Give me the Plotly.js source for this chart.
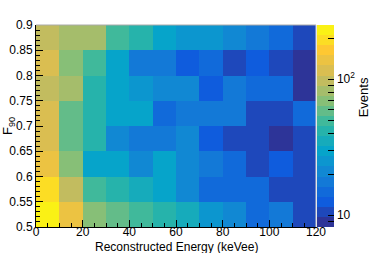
<!DOCTYPE html>
<html><head><meta charset="utf-8">
<script src="https://cdn.plot.ly/plotly-3.0.1.min.js"></script>
<style>html,body{margin:0;padding:0;background:#fff;}#plot{width:374px;height:253px;}</style>
</head><body><div id="plot"></div>
<script>
// bin centres
const energyCenters = [5,15,25,35,45,55,65,75,85,95,105,115];
const f90Centers = [0.525,0.575,0.625,0.675,0.725,0.775,0.825,0.875];
// event counts, rows bottom (F90 0.50-0.55) to top (0.85-0.90)
const row050 = [230,137,69,58,49,42,35,25,21,15,18,11];
const row055 = [194,98,49,42,35,30,21,15,15,15,11,11];
const row060 = [137,69,30,30,21,30,21,18,15,11,13,11];
const row065 = [116,58,42,21,18,18,21,13,11,11,9,11];
const row070 = [116,58,42,30,30,15,18,18,18,11,11,15];
const row075 = [98,82,42,30,25,21,21,13,18,15,15,9];
const row080 = [116,69,49,30,18,18,13,15,11,13,11,9];
const row085 = [98,82,82,49,42,30,25,25,21,18,15,11];
const counts = [row050,row055,row060,row065,row070,row075,row080,row085];
const xTickVals = [0,20,40,60,80,100,120];
const yTickVals = [0.5,0.55,0.6,0.65,0.7,0.75,0.8,0.85,0.9];
const yTickText = ["0.5","0.55","0.6","0.65","0.7","0.75","0.8","0.85","0.9"];
const cbMajor = [10,100];
const cbMajorText = ["10","10<sup>2</sup>"];
const cbMinor = [9,20,30,40,50,60,70,80,90,200];
const zMin = 8.2, zMax = 250;

// ROOT kBird palette
const st = [0,0.125,0.25,0.375,0.5,0.625,0.75,0.875,1];
const R = [0.2082,0.0592,0.0780,0.0232,0.1802,0.5301,0.8186,0.9956,0.9764];
const G = [0.1664,0.3599,0.5041,0.6419,0.7178,0.7492,0.7328,0.7862,0.9832];
const B = [0.5293,0.8684,0.8385,0.7914,0.6425,0.4662,0.3499,0.1968,0.0539];
function bird(t){
  let i=0; while(i<st.length-2 && t>st[i+1]) i++;
  const f=(t-st[i])/(st[i+1]-st[i]);
  const c=a=>Math.round(255*(a[i]+f*(a[i+1]-a[i])));
  return 'rgb('+c(R)+','+c(G)+','+c(B)+')';
}
const nb=20, cs=[];
for(let k=0;k<nb;k++){const col=bird((k+0.5)/nb);cs.push([k/nb,col]);cs.push([(k+1)/nb,col]);}

const z = counts.map(r=>r.map(v=>Math.log10(v)));
const tv=[], tt=[];
cbMajor.forEach((v,i)=>{tv.push(Math.log10(v));tt.push(cbMajorText[i]);});
cbMinor.forEach(v=>{tv.push(Math.log10(v));tt.push("");});

const font = {family:'"Liberation Sans", Arial, sans-serif', size:12, color:'#000'};
const trace = {
  type:'heatmap', x:energyCenters, y:f90Centers, z:z,
  zmin:Math.log10(zMin), zmax:Math.log10(zMax), colorscale:cs, hoverinfo:'skip',
  colorbar:{x:1.004, xanchor:'left', xref:'paper', xpad:0, y:0.5, yanchor:'middle', ypad:0,
    len:1, lenmode:'fraction', thickness:17, thicknessmode:'pixels', outlinewidth:0,
    tickmode:'array', tickvals:tv, ticktext:tt, ticks:'inside', ticklen:6, tickcolor:'#000',
    tickfont:font, title:{text:''}}
};
const layout = {
  width:374, height:253, margin:{l:36,r:56,t:25,b:26},
  paper_bgcolor:'#fff', plot_bgcolor:'#fff', font:font, showlegend:false,
  xaxis:{range:[0,120], tickmode:'array', tickvals:xTickVals, ticks:'inside', ticklen:7, tickcolor:'#000',
    showline:true, linecolor:'#000', linewidth:1, showgrid:false, zeroline:false, tickfont:font,
    ticklabelstandoff:-6,
    minor:{dtick:5, tick0:0, ticks:'inside', ticklen:4, tickcolor:'#000', showgrid:false},
    title:{text:''}, automargin:false},
  yaxis:{range:[0.5,0.9], tickmode:'array', tickvals:yTickVals, ticktext:yTickText, ticks:'inside', ticklen:7, tickcolor:'#000',
    showline:true, linecolor:'#000', linewidth:1, showgrid:false, zeroline:false, tickfont:font,
    minor:{dtick:0.01, tick0:0.5, ticks:'inside', ticklen:4, tickcolor:'#000', showgrid:false},
    title:{text:'F<sub>90</sub>', font:{family:font.family,size:13,color:'#000'}, standoff:2}, automargin:false},
  shapes:[
    {type:'line', xref:'paper', yref:'paper', x0:0, x1:1, y0:1, y1:1, line:{color:'#aaaaaa', width:1}},
    {type:'line', xref:'paper', yref:'paper', x0:1, x1:1, y0:0, y1:1, line:{color:'#cccccc', width:1}}
  ],
  annotations:[
    {text:'Events', xref:'paper', yref:'paper', x:1.17, xanchor:'center', y:0.64, yanchor:'middle', textangle:-90, showarrow:false, font:{family:font.family,size:13,color:'#000'}},
    {text:'Reconstructed Energy (keVee)', xref:'paper', yref:'paper', x:0.5, xanchor:'center', y:-0.1, yanchor:'middle', showarrow:false, font:font}
  ]
};
Plotly.newPlot('plot',[trace],layout,{staticPlot:true,displayModeBar:false});
</script></body></html>
